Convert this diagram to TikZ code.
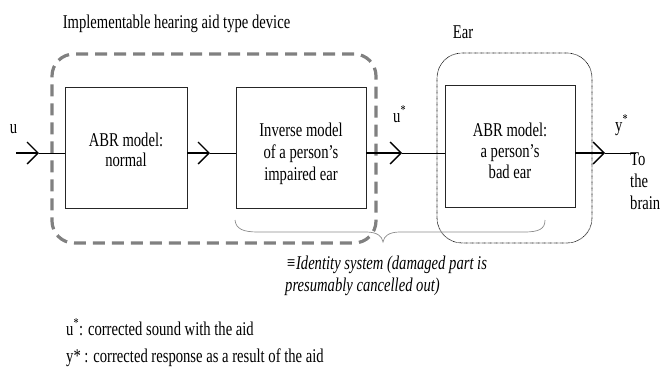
\documentclass[tikz,border=0pt]{standalone}
\usepackage{fontspec}
\setmainfont{Liberation Serif}[FakeStretch=0.75]
\usetikzlibrary{arrows.meta}
\begin{document}
\begin{tikzpicture}[x=1pt,y=-1pt,
  every node/.style={font=\fontsize{19.5}{22}\selectfont, inner sep=0pt},
  txt/.style={anchor=base},
  txtl/.style={anchor=base west},
  blk/.style={draw=black!85, line width=0.8pt},
  devbox/.style={draw=black!50, line width=3.2pt, dash pattern=on 12pt off 7pt, rounded corners=22pt},
  earbox/.style={draw=black, line width=0.7pt, dash pattern=on 0.6pt off 0.6pt, rounded corners=25pt},
  shaft/.style={line width=1.4pt, -{Straight Barb[length=11pt,width=22pt,line width=1.4pt]}},
  thinln/.style={line width=0.8pt},
  bracestyle/.style={draw=black!45, line width=0.7pt}]
\useasboundingbox (0,0) rectangle (662,375);

% dashed device frame and dotted ear frame
\node[devbox, minimum width=324pt, minimum height=189pt] (dev) at (214,148.5) {};
\node[earbox, minimum width=155pt, minimum height=190pt] (ear) at (514.5,148) {};

% blocks
\node[blk, minimum width=122pt, minimum height=121pt] (b1) at (126,147.5) {};
\node[blk, minimum width=130pt, minimum height=121pt] (b2) at (301,147.5) {};
\node[blk, minimum width=130pt, minimum height=122pt] (b3) at (510,146) {};

% arrow coordinates
\coordinate (in) at (16,153);
\coordinate (h0) at (39,153);
\coordinate (h1) at (210,153);
\coordinate (h2) at (402,153);
\coordinate (h3) at (605,153);
\coordinate (out) at (636,153);

% connectors
\draw[shaft] (in) -- (h0);
\draw[thinln] (h0) -- (b1.west |- h0);
\draw[shaft] (b1.east |- h1) -- (h1);
\draw[thinln] (h1) -- (b2.west |- h1);
\draw[shaft] (b2.east |- h2) -- (h2);
\draw[thinln] (h2) -- (b3.west |- h2);
\draw[shaft] (b3.east |- h3) -- (h3);
\draw[thinln] (h3) -- (out);

% brace
\draw[bracestyle] (235,220) .. controls (236,229) and (243,232) .. (258,232)
  -- (366,232) .. controls (377,232) and (382,236) .. (383,242)
  .. controls (384,236) and (389,232) .. (400,232)
  -- (524,232) .. controls (539,232) and (545,229) .. (545,220);

% labels
\node[txt] (title) at (176.5,28) {Implementable hearing aid type device};
\node[txt] (earlbl) at (463,38) {Ear};
\node[txt] (ulbl) at (13.5,133) {u};
\node[txtl] (ustar) at (393,122) {u\textsuperscript{*}};
\node[txtl] (ystar) at (615,131) {y\textsuperscript{*}};
\node[txtl] (to1) at (630,165) {To};
\node[txtl] (to2) at (630,187) {the};
\node[txtl] (to3) at (630,209) {brain};

\node[txt] (b1a) at (126,146) {ABR model:};
\node[txt] (b1b) at (126,166) {normal};
\node[txt] (b2a) at (301,136) {Inverse model};
\node[txt] (b2b) at (301,158) {of a person’s};
\node[txt] (b2c) at (301,180) {impaired ear};
\node[txt] (b3a) at (510,136) {ABR model:};
\node[txt] (b3b) at (510,157) {a person’s};
\node[txt] (b3c) at (510,178) {bad ear};

\node[txtl] (id1) at (286,269) {\itshape ≡Identity system (damaged part is};
\node[txtl] (id2) at (285,291) {\itshape presumably cancelled out)};

\node[txtl] (n1) at (66,335) {u\textsuperscript{*}: corrected sound with the aid};
\node[txtl] (n2) at (66,362) {y* : corrected response as a result of the aid};
\end{tikzpicture}
\end{document}
